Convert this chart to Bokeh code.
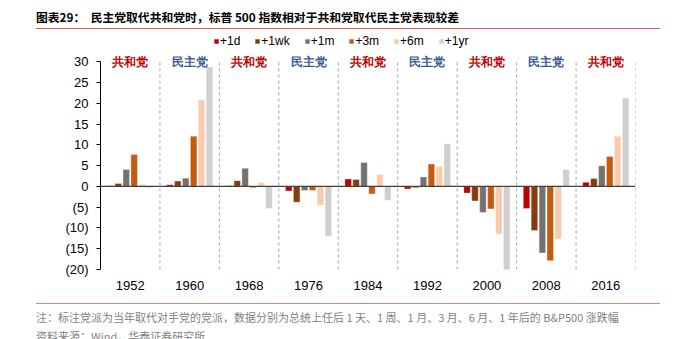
from bokeh.plotting import figure
from bokeh.models import (ColumnDataSource, FixedTicker, Span, Legend, LegendItem,
                          LabelSet, Div, Range1d)
from bokeh.layouts import column
from bokeh.embed import file_html
from bokeh.resources import INLINE

# ---------------- data ----------------
years = ["1952", "1960", "1968", "1976", "1984", "1992", "2000", "2008", "2016"]
parties = ["共和党", "民主党", "共和党", "民主党", "共和党", "民主党", "共和党", "民主党", "共和党"]
series_names = ["+1d", "+1wk", "+1m", "+3m", "+6m", "+1yr"]
d1 = [0.2, 0.4, 0.2, -1.1, 1.8, -0.6, -1.6, -5.3, 1.0]
wk1 = [0.7, 1.3, 1.4, -3.8, 1.7, -0.3, -3.5, -10.6, 1.9]
m1 = [4.1, 2.0, 4.4, -1.0, 5.8, 2.3, -6.3, -16.0, 5.0]
m3 = [7.7, 12.1, -0.3, -1.0, -1.8, 5.4, -5.4, -17.9, 7.2]
m6 = [0.5, 20.8, 0.9, -4.5, 2.9, 4.8, -11.5, -12.7, 12.1]
yr1 = [-0.3, 28.8, -5.3, -12.0, -3.3, 10.3, -20.4, 4.1, 21.3]
y_ticks = [-20, -15, -10, -5, 0, 5, 10, 15, 20, 25, 30]
y_tick_labels = ["(20)", "(15)", "(10)", "(5)", "0", "5", "10", "15", "20", "25", "30"]

title_text = "图表29：&nbsp;&nbsp;民主党取代共和党时，标普 500 指数相对于共和党取代民主党表现较差"
note_text = ("注：标注党派为当年取代对手党的党派，数据分别为总统上任后 1 天、1 周、1 月、3 月、6 月、1 年后的 B&amp;P500 涨跌幅"
             "<br>资料来源：Wind，华泰证券研究所")

colors = ["#C00000", "#843C0C", "#767171", "#C55A11", "#F8CBAD", "#D0CECE"]
party_colors = {"共和党": "#C00000", "民主党": "#3B5A98"}
values = [d1, wk1, m1, m3, m6, yr1]

# ---------------- figure ----------------
n = len(years)
FIG_H, TOP, BOTTOM = 271, 4, 31
frame_h = FIG_H - TOP - BOTTOM
p = figure(width=674, height=FIG_H, output_backend="svg", toolbar_location=None,
           x_range=Range1d(0.5, n + 0.5), y_range=Range1d(y_ticks[0], 36.84),
           min_border_left=100, min_border_right=39, min_border_top=TOP,
           min_border_bottom=BOTTOM)
p.outline_line_color = None
p.xgrid.visible = False
p.ygrid.visible = False
p.background_fill_color = "white"
p.border_fill_color = "white"

# separators between groups (dashed)
xs = [i + 1.5 for i in range(n)]
p.segment(x0=xs, x1=xs, y0=[y_ticks[0]] * n, y1=[y_ticks[-1] + 0.5] * n,
          line_color="#A6A6A6", line_width=1, line_dash="3 3")

step = 0.1333
bw = 0.11
items = []
for k, (name, vals, col) in enumerate(zip(series_names, values, colors)):
    off = (k - 2.5) * step
    src = ColumnDataSource(dict(x=[i + 1 + off for i in range(n)], top=vals))
    r = p.vbar(x="x", top="top", bottom=0, width=bw, source=src,
               fill_color=col, line_color="white", line_width=0.6, line_alpha=0.6)
    items.append(LegendItem(label=name, renderers=[r]))

p.add_layout(Span(location=0, dimension="width", line_color="#404040", line_width=1.3))

# party labels
lab_src = ColumnDataSource(dict(x=[i + 1 for i in range(n)], y=[y_ticks[-1]] * n,
                                text=parties, color=[party_colors[t] for t in parties]))
p.add_layout(LabelSet(x="x", y="y", text="text", source=lab_src, text_color="color",
                      text_font="Noto Sans CJK SC", text_font_size="12px",
                      text_font_style="bold",
                      text_align="center", text_baseline="middle", y_offset=0))

# axes
p.yaxis.ticker = FixedTicker(ticks=y_ticks)
p.yaxis.bounds = (y_ticks[0], y_ticks[-1])
p.yaxis.major_label_overrides = {t: l for t, l in zip(y_ticks, y_tick_labels)}
p.yaxis.axis_line_color = "#000000"
p.yaxis.major_tick_line_color = "#000000"
p.yaxis.major_tick_out = 4
p.yaxis.major_tick_in = 0
p.yaxis.minor_tick_line_color = None
p.yaxis.major_label_text_font = "Liberation Sans"
p.yaxis.major_label_text_font_size = "13px"
p.yaxis.major_label_text_color = "#000000"
p.yaxis.major_label_standoff = 8

p.xaxis.ticker = FixedTicker(ticks=[i + 1 for i in range(n)])
p.xaxis.major_label_overrides = {i + 1: y for i, y in enumerate(years)}
p.xaxis.axis_line_color = None
p.xaxis.major_tick_line_color = None
p.xaxis.minor_tick_line_color = None
p.xaxis.major_label_text_font = "Liberation Sans"
p.xaxis.major_label_text_font_size = "13px"
p.xaxis.major_label_text_color = "#000000"
p.xaxis.major_label_standoff = 5

legend = Legend(items=items, orientation="horizontal", location=(113, frame_h - 15),
                glyph_width=6, glyph_height=6, label_standoff=1, spacing=14,
                label_width=10, label_height=14, padding=0, margin=0,
                label_text_font="Liberation Sans", label_text_font_size="12px",
                label_text_color="#000000", background_fill_alpha=0,
                border_line_color=None)
p.add_layout(legend, "center")

title_div = Div(width=674, height=29, margin=0, text=(
    '<div style="margin-left:36px;width:624px;padding-top:10px;height:29px;box-sizing:border-box;'
    'border-bottom:1.5px solid #E35B4C;font-family:\'Noto Sans CJK SC\',\'Liberation Sans\';'
    'font-weight:bold;font-size:11.8px;line-height:14px;color:#000;white-space:nowrap;">'
    + title_text + '</div>'))
note_div = Div(width=674, height=39, margin=0, text=(
    '<div style="margin-left:36px;width:624px;margin-top:3px;padding-top:4px;'
    'border-top:1.5px solid #E8806F;font-family:\'Noto Sans CJK SC\',\'Liberation Sans\';'
    'font-size:11px;line-height:19px;color:#7F7F7F;white-space:nowrap;">'
    + note_text + '</div>'))

layout = column(title_div, p, note_div, spacing=0)
open("out.html", "w").write(file_html(layout, INLINE))
